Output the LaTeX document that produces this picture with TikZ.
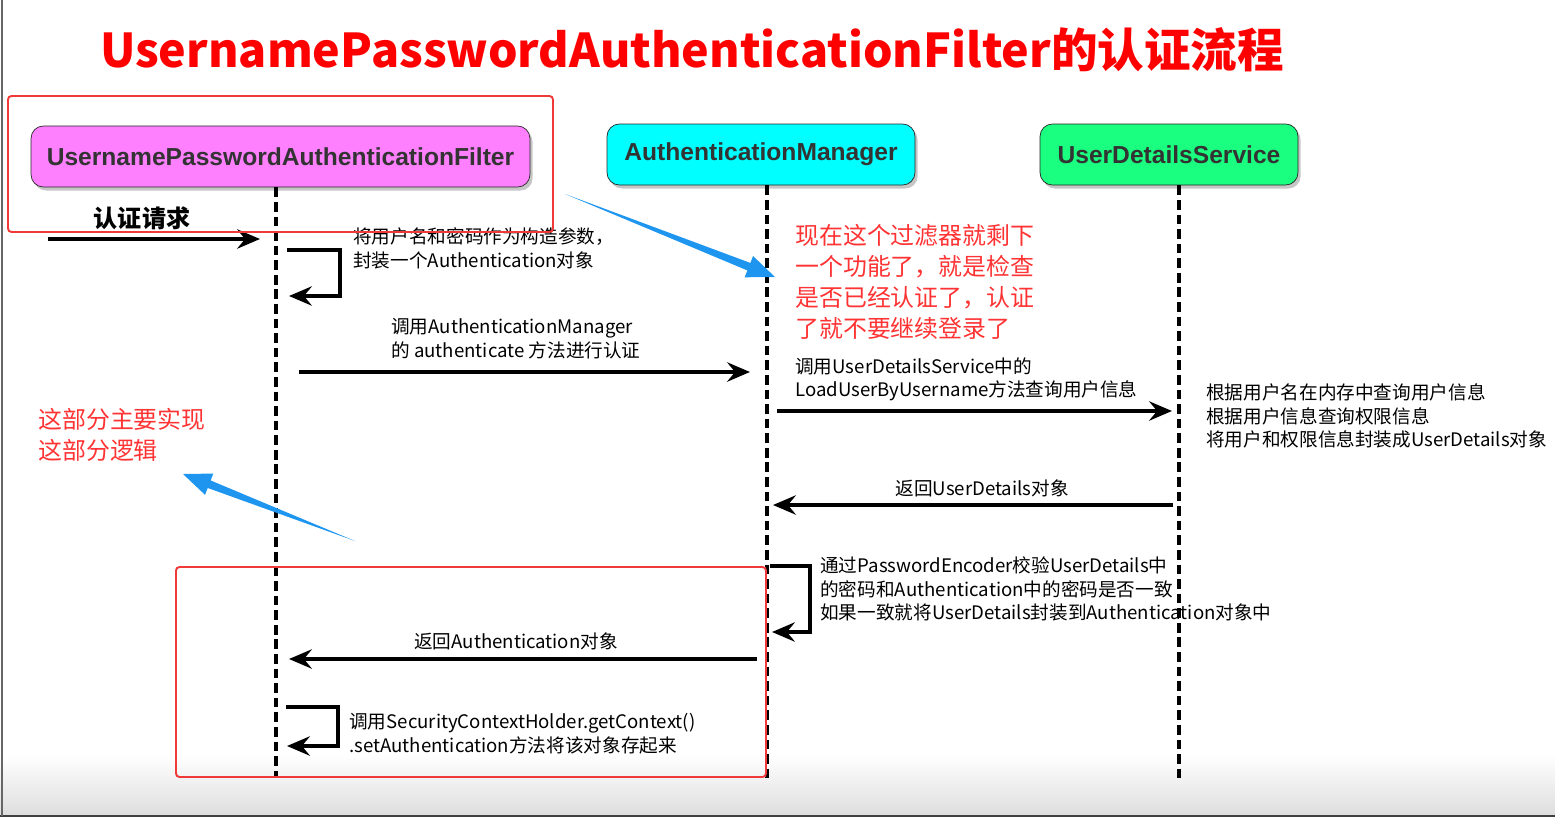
\documentclass[tikz,border=0pt]{standalone}
\usepackage{fontspec}
\setmainfont{Noto Sans CJK SC}
\newfontfamily\hdrfont{Liberation Sans}
\usetikzlibrary{arrows.meta,shadows,calc,positioning}

\definecolor{filterpink}{HTML}{FF80FF}
\definecolor{managercyan}{HTML}{00FFFF}
\definecolor{servicegreen}{HTML}{1AFF80}
\definecolor{notered}{HTML}{FF3333}
\definecolor{boxred}{HTML}{F03A3A}
\definecolor{hintblue}{HTML}{1E96F0}
\definecolor{hdrtext}{HTML}{333333}

\tikzset{
  hdr/.style={draw=black!85, rounded corners=7pt, text=hdrtext,
    font=\hdrfont\bfseries\fontsize{14}{16}\selectfont, minimum height=1.22cm,
    drop shadow={shadow xshift=1.5pt, shadow yshift=-2pt, opacity=.45}},
  life/.style={line width=2.2pt, dash pattern=on 5.5pt off 2.8pt},
  msg/.style={line width=1.9pt, -{Stealth[length=13pt,width=11pt,inset=4.5pt]}},
  txt/.style={font=\fontsize{10.6}{13.6}\selectfont, align=left, inner sep=0pt},
  note/.style={text=notered, font=\fontsize{13.6}{17.6}\selectfont, align=left, inner sep=0pt},
  markbox/.style={draw=boxred, line width=1.1pt, rounded corners=2pt}
}

\begin{document}
\begin{tikzpicture}[x=0.02cm, y=-0.02cm]
\useasboundingbox (0,0) rectangle (1555,819);
% frame of the slide
\shade [top color=white, bottom color=black!13] (0,755) rectangle (1555,815);
\draw [black!75, line width=.9pt] (0,816) -- (1555,816);
\draw [black!60, line width=.6pt] (2,0) -- (2,816);
% title
\node (title) [text=red, font=\bfseries\fontsize{26.5}{30}\selectfont] at (692,50)
  {UsernamePasswordAuthenticationFilter的认证流程};
% participants
\node (flt) [hdr, fill=filterpink, minimum width=9.98cm] at (280.5,156.5)
  {UsernamePasswordAuthenticationFilter};
\node (mgr) [hdr, fill=managercyan, minimum width=6.16cm] at (761,154.5)
  {AuthenticationManager};
\node (uds) [hdr, fill=servicegreen, minimum width=5.16cm] at (1169,154.5)
  {UserDetailsService};
% lifelines
\coordinate (fltEnd) at (276,778);
\coordinate (mgrEnd) at (767,780);
\coordinate (udsEnd) at (1179,780);
\draw [life] (flt.south -| fltEnd) -- (fltEnd);
\draw [life] (mgr.south -| mgrEnd) -- (mgrEnd);
\draw [life] (uds.south -| udsEnd) -- (udsEnd);
% request
\coordinate (reqStart) at (48,239);
\coordinate (reqEnd) at (260,239);
\draw [msg] (reqStart) -- (reqEnd);
\node (req) [font=\bfseries\fontsize{13.7}{16}\selectfont] at (142,218) {认证请求};
% build the token
\coordinate (loopA) at (287,250);
\coordinate (loopB) at (289,296);
\draw [msg] (loopA) -- (340,250) -- (340,296) -- (loopB);
\node (build) [txt, anchor=north west] at (353,227)
  {将用户名和密码作为构造参数，\\封装一个Authentication对象};
% call the manager
\coordinate (callA) at (299,372);
\coordinate (callB) at (750,372);
\draw [msg] (callA) -- (callB);
\node (call) [txt, anchor=north west] at (391,318)
  {调用AuthenticationManager\\的 authenticate 方法进行认证};
% load the user
\coordinate (loadA) at (777,411);
\coordinate (loadB) at (1172,411);
\draw [msg] (loadA) -- (loadB);
\node (load) [txt, anchor=north west] at (795,357)
  {调用UserDetailsService中的\\LoadUserByUsername方法查询用户信息};
\node (query) [txt, anchor=north west] at (1206,383)
  {根据用户名在内存中查询用户信息\\根据用户信息查询权限信息\\将用户和权限信息封装成UserDetails对象};
% return the user
\coordinate (retA) at (1173,505);
\coordinate (retB) at (773,505);
\draw [msg] (retA) -- (retB);
\node (ret) [txt] at (982,488) {返回UserDetails对象};
% check the password
\coordinate (chkA) at (770,566);
\coordinate (chkB) at (772,632);
\draw [msg] (chkA) -- (810,566) -- (810,632) -- (chkB);
\node (chk) [txt, anchor=north west] at (820,556)
  {通过PasswordEncoder校验UserDetails中\\的密码和Authentication中的密码是否一致\\如果一致就将UserDetails封装到Authentication对象中};
% return the token
\coordinate (backA) at (757,659);
\coordinate (backB) at (289,659);
\draw [msg] (backA) -- (backB);
\node (back) [txt] at (516,641) {返回Authentication对象};
% store in the context
\coordinate (ctxA) at (286,707);
\coordinate (ctxB) at (287,746);
\draw [msg] (ctxA) -- (338,707) -- (338,746) -- (ctxB);
\node (ctx) [txt, anchor=north west] at (349,713)
  {调用SecurityContextHolder.getContext()\\.setAuthentication方法将该对象存起来};
% marks
\draw [markbox] (8,96) rectangle (553,232);
\draw [markbox] (176,567) rectangle (766,777);
\node (noteMgr) [note, anchor=north west] at (795,224)
  {现在这个过滤器就剩下\\一个功能了，就是检查\\是否已经认证了，认证\\了就不要继续登录了};
\node (noteFlt) [note, anchor=north west] at (38,408)
  {这部分主要实现\\这部分逻辑};
% blue hints
\coordinate (hintTailA) at (565,194);
\coordinate (hintTipA) at (775,277);
\coordinate (hintBaseA) at ($(hintTipA)!16pt!(hintTailA)$);
\fill [hintblue] (hintTailA) -- ($(hintBaseA)!2.3pt!90:(hintTipA)$)
  -- ($(hintBaseA)!6.5pt!90:(hintTipA)$) -- (hintTipA)
  -- ($(hintBaseA)!6.5pt!-90:(hintTipA)$) -- ($(hintBaseA)!2.3pt!-90:(hintTipA)$) -- cycle;
\coordinate (hintTailB) at (355,541);
\coordinate (hintTipB) at (183,474);
\coordinate (hintBaseB) at ($(hintTipB)!16pt!(hintTailB)$);
\fill [hintblue] (hintTailB) -- ($(hintBaseB)!2.3pt!90:(hintTipB)$)
  -- ($(hintBaseB)!6.5pt!90:(hintTipB)$) -- (hintTipB)
  -- ($(hintBaseB)!6.5pt!-90:(hintTipB)$) -- ($(hintBaseB)!2.3pt!-90:(hintTipB)$) -- cycle;
\end{tikzpicture}
\end{document}
